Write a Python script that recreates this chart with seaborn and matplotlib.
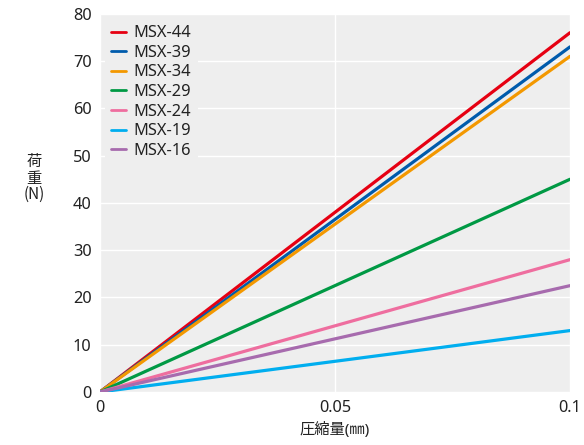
import pandas as pd
import seaborn as sns
import matplotlib.pyplot as plt

# compression (mm) vs load (N) for each model
models = ["MSX-44", "MSX-39", "MSX-34", "MSX-29", "MSX-24", "MSX-19", "MSX-16"]
x_start = [0, 0, 0, 0, 0, 0, 0]
x_end = [0.1, 0.1, 0.1, 0.1, 0.1, 0.1, 0.1]
load_start = [0, 0, 0, 0, 0, 0, 0]
load_end = [76, 73, 71, 45, 28, 13, 22.5]
colors = ["#E60012", "#005BAC", "#F39800", "#009944", "#EE6E9F", "#00AEEF", "#A76BAE"]

rows = []
for m, x0, x1, y0, y1 in zip(models, x_start, x_end, load_start, load_end):
    rows.append({"model": m, "x": x0, "y": y0})
    rows.append({"model": m, "x": x1, "y": y1})
df = pd.DataFrame(rows)

sns.set_style("white")
plt.rcParams['font.family'] = ['Noto Sans', 'Noto Sans CJK JP', 'DejaVu Sans']

fig = plt.figure(figsize=(5.84, 4.45), dpi=100)
ax = fig.add_axes([0.171, 0.119, 0.805, 0.850])
ax.set_facecolor("#EEEEEE")

sns.lineplot(data=df, x="x", y="y", hue="model", hue_order=models,
             palette=colors, linewidth=2.3, ax=ax, legend=True)

ax.set_xlim(0, 0.1)
ax.set_ylim(0, 80)
ax.set_xticks([0, 0.05, 0.1])
ax.set_xticklabels(["0", "0.05", "0.1"])
ax.set_yticks(range(0, 81, 10))
ax.grid(True, color="white", linewidth=1)
ax.set_axisbelow(True)
for s in ax.spines.values():
    s.set_visible(False)
ax.tick_params(length=0, labelsize=11.8, colors="#222222", pad=6)

ax.set_xlabel("圧縮量(㎜)", fontsize=11, color="#222222", labelpad=4)
ax.set_ylabel("荷\n重\n(N)", fontsize=11, color="#222222", rotation=0,
              linespacing=0.95, family=['Noto Sans CJK JP', 'DejaVu Sans'])
ax.yaxis.set_label_coords(-0.14, 0.5)

leg = ax.legend(loc="upper left", frameon=True, fontsize=11.8, handlelength=0.9,
                labelspacing=0.22, borderaxespad=0.3, handletextpad=0.45)
leg.get_frame().set_facecolor("#EEEEEE")
leg.get_frame().set_edgecolor("none")
leg.get_frame().set_alpha(1)
for line in leg.get_lines():
    line.set_linewidth(2)
for t in leg.get_texts():
    t.set_color("#222222")

fig.savefig("out.png", dpi=100)
